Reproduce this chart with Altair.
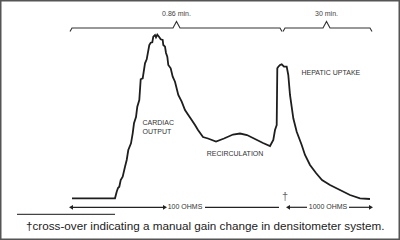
import altair as alt
import pandas as pd

# Densitometer tracing: time axis (arbitrary units) and signal deflection
trace_t = [72, 115, 116.7, 118, 119.3, 120.7, 122.7, 125, 126.7, 128.3, 131, 132.7,
           134, 136, 137.3, 139.3, 140.7, 142.7, 145, 146.7, 149.3, 150.7, 152.3,
           153.3, 155, 156, 157.3, 159, 160.7, 162.7, 163.3, 165, 166, 167.3, 168.3,
           170.7, 172.7, 175, 178.3, 181.7, 185, 188.3, 191.7, 195, 198, 203, 208,
           216, 224, 233, 240, 247, 257, 263, 270, 273.3, 275, 276.7, 277.3, 278.3,
           280, 281.7, 284, 286.7, 288.3, 290, 293.3, 296.7, 301.7, 305, 310, 316,
           322, 330, 340, 350, 360, 370]
trace_s = [41.7, 41.7, 48.3, 52, 53.3, 60, 63.3, 73.3, 80, 90, 96.7, 106.7,
           116.7, 123, 133.3, 140, 160.7, 161.7, 176.7, 180.7, 195, 197.3, 197.7,
           203.3, 205, 202.7, 205.3, 203.3, 200.7, 200, 195, 193.3, 187, 183.3, 175,
           171.7, 163.3, 158.3, 145, 138.3, 130, 125, 120, 115, 110, 103, 101.5,
           98.5, 101.5, 105.5, 106.5, 105, 100, 97, 94, 100, 110, 115, 171.7, 173.3,
           175, 175.7, 173.3, 173.3, 165, 145, 121.7, 108.3, 95, 85, 75, 67,
           60, 55, 50, 45, 41.7, 41]

# Time-span braces above the tracing
brace_id = ["a"] * 7 + ["b"] * 7
brace_t = [70, 72, 173, 176.5, 180, 280, 282, 283, 285, 323, 326.5, 330, 370, 372]
brace_s = [208.5, 212, 212, 218.5, 212, 212, 208.5, 208.5, 212, 212, 218.5, 212, 212, 208.5]
brace_lbl = ["0.86 min.", "30 min."]
brace_lbl_t = [176.5, 326.5]

# Gain-range scale bars
bar_t1 = [72, 205, 289, 349]
bar_t2 = [163, 279, 307, 370]
bar_s = 32.7
head_t = [71, 165, 288, 371]
head_shape = ["triangle-left", "triangle-right", "triangle-left", "triangle-right"]
range_lbl = ["100 OHMS", "1000 OHMS"]
range_lbl_t = [185, 328]

# Annotations on the tracing
note_txt = ["CARDIAC", "OUTPUT", "HEPATIC UPTAKE"]
note_t = [142.5, 142.5, 301.5]
note_s = [116.7, 107.7, 166.7]
recirc_txt = "RECIRCULATION"
recirc_t, recirc_s = 235, 85.7

footnote = "\u2020cross-over indicating a manual gain change in densitometer system."

FONT = "Liberation Sans"
xs = alt.Scale(domain=[0, 400], nice=False, zero=False)
ys = alt.Scale(domain=[0, 240], nice=False, zero=False)
X = lambda f: alt.X(f, type="quantitative", scale=xs, axis=None)
Y = lambda f: alt.Y(f, type="quantitative", scale=ys, axis=None)

trace = alt.Chart(pd.DataFrame({"t": trace_t, "s": trace_s})).mark_line(
    color="#1e1e1e", strokeWidth=1.8, interpolate="linear"
).encode(x=X("t"), y=Y("s"), order="t:Q")

braces = alt.Chart(pd.DataFrame({"g": brace_id, "t": brace_t, "s": brace_s,
                                 "i": list(range(len(brace_t)))})).mark_line(
    color="#333", strokeWidth=1.1
).encode(x=X("t"), y=Y("s"), detail="g:N", order="i:Q")

brace_text = alt.Chart(pd.DataFrame({"t": brace_lbl_t, "s": [226, 226], "txt": brace_lbl})).mark_text(
    font=FONT, fontSize=7, color="#444"
).encode(x=X("t"), y=Y("s"), text="txt:N")

bars = alt.Chart(pd.DataFrame({"t1": bar_t1, "t2": bar_t2, "s": [bar_s] * 4})).mark_rule(
    color="#222", strokeWidth=1.2
).encode(x=X("t1"), x2="t2", y=Y("s"))

heads = alt.Chart(pd.DataFrame({"t": head_t, "s": [bar_s] * 4, "shape": head_shape})).mark_point(
    filled=True, color="#222", size=22, opacity=1
).encode(x=X("t"), y=Y("s"),
         shape=alt.Shape("shape:N", scale=None, legend=None))

range_text = alt.Chart(pd.DataFrame({"t": range_lbl_t, "s": [bar_s] * 2, "txt": range_lbl})).mark_text(
    font=FONT, fontSize=7, color="#333"
).encode(x=X("t"), y=Y("s"), text="txt:N")

notes = alt.Chart(pd.DataFrame({"t": note_t, "s": note_s, "txt": note_txt})).mark_text(
    font=FONT, fontSize=7, color="#333", align="left"
).encode(x=X("t"), y=Y("s"), text="txt:N")

recirc = alt.Chart(pd.DataFrame({"t": [recirc_t], "s": [recirc_s], "txt": [recirc_txt]})).mark_text(
    font=FONT, fontSize=7, color="#333"
).encode(x=X("t"), y=Y("s"), text="txt:N")

dagger = alt.Chart(pd.DataFrame({"t": [285], "s": [43], "txt": ["\u2020"]})).mark_text(
    font=FONT, fontSize=11, color="#666"
).encode(x=X("t"), y=Y("s"), text="txt:N")

foot_rule = alt.Chart(pd.DataFrame({"t1": [17], "t2": [115], "s": [25.7]})).mark_rule(
    color="#444", strokeWidth=1.2
).encode(x=X("t1"), x2="t2", y=Y("s"))

foot_text = alt.Chart(pd.DataFrame({"t": [26], "s": [14.5], "txt": [footnote]})).mark_text(
    font=FONT, fontSize=11.7, color="#222", align="left"
).encode(x=X("t"), y=Y("s"), text="txt:N")

chart = alt.layer(
    trace, braces, brace_text, bars, heads, range_text, notes, recirc, dagger,
    foot_rule, foot_text
).properties(
    width=400, height=240, padding=0, autosize=alt.AutoSizeParams(type="none"),
    background="white"
).configure_view(stroke="#555", strokeWidth=3)

chart.save("out.html", embed_options={"renderer": "svg", "actions": False})
